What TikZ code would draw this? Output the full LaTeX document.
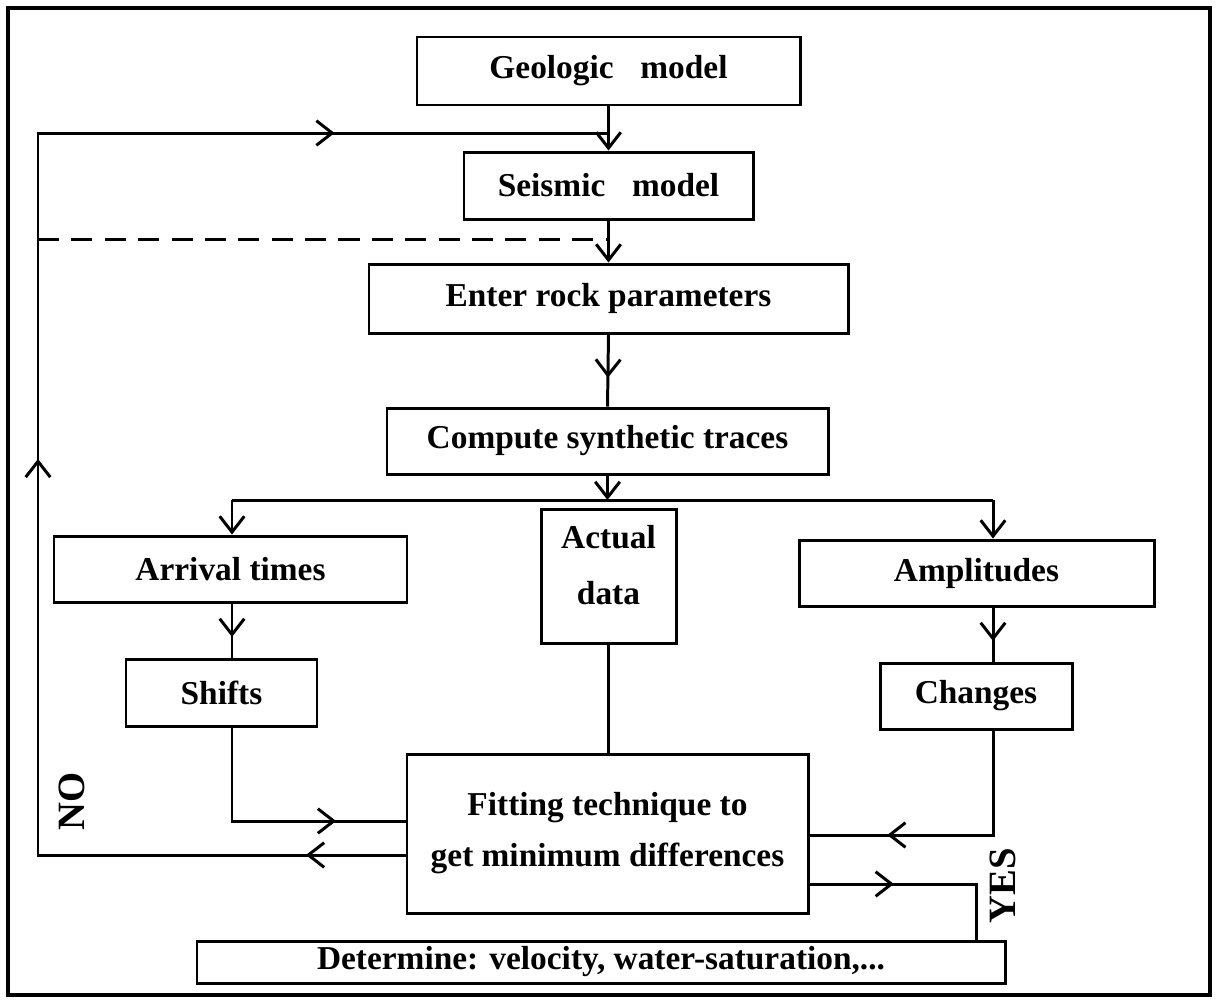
\documentclass[tikz,border=0pt]{standalone}
\usepackage{fontspec}
\setmainfont{Liberation Serif}
\usetikzlibrary{arrows.meta,decorations.markings}

\begin{document}
\begin{tikzpicture}[x=0.02cm, y=-0.02cm, line width=1.7pt, >={Straight Barb[length=9pt,width=14pt]},
  box/.style={draw, align=center, inner sep=0pt, font=\fontsize{19}{29}\selectfont\bfseries},
  sz/.style 2 args={minimum width=#1*0.02cm, minimum height=#2*0.02cm},
  midarr/.style={postaction={decorate, decoration={markings, mark=at position #1 with {\arrow{>}}}}},
  lbl/.style={rotate=90, inner sep=0pt, font=\fontsize{22}{24}\selectfont\bfseries}]
\useasboundingbox (0,0) rectangle (1217,1005);
\draw[line width=2.2pt] (8,8) rectangle (1210,995);
% main column
\node[box, sz={383}{68}] (geo) at (608.5,71) {Geologic\hspace{0.8em}model};
\node[box, sz={289}{67}] (seis) at (608.5,185.5) {Seismic\hspace{0.8em}model};
\node[box, sz={479}{69}] (rock) at (608.5,298.5) {Enter rock parameters};
\node[box, sz={441}{66}] (comp) at (607.5,441) {Compute synthetic traces};
% three branches
\node[box, sz={353}{66}] (arr) at (230.5,569) {Arrival times};
\node[box, sz={191}{67}] (shift) at (221.5,692.5) {Shifts};
\node[box, sz={135}{134}, font=\fontsize{19}{32}\selectfont\bfseries, text depth=13pt] (act) at (608.5,576) {Actual\\data};
\node[box, sz={355}{66}] (amp) at (976.5,573) {Amplitudes};
\node[box, sz={192}{66}] (chg) at (976,696) {Changes};
% fitting and result
\node[box, sz={401}{159}] (fit) at (607.5,833.5) {Fitting technique to\\get minimum differences};
\node[box, sz={808}{42}] (det) at (601,962) {Determine: velocity, water-saturation,...};
\node[lbl] (no) at (72,801) {NO};
\node[lbl] (yes) at (1003,886) {YES};
% connectors
\coordinate (sl) at (232,500);
\coordinate (sr) at (993,500);
\coordinate (yd) at (976,0);
\coordinate (nl) at (38,855);
\coordinate (nt) at (38,133);
\coordinate (dl) at (38,239);
\draw[->] (geo.south) -- (seis.north);
\draw[->] (seis.south) -- (rock.north);
\draw[midarr=0.6] (rock.south) -- (comp.north);
\draw[->] (comp.south) -- (comp.south |- sl);
\draw (sl) -- (sr);
\draw[->] (sl) -- (sl |- arr.north);
\draw[->] (sr) -- (sr |- amp.north);
\draw[midarr=0.62] (sl |- arr.south) -- (sl |- shift.north);
\draw[midarr=0.62] (sr |- amp.south) -- (sr |- chg.north);
\draw (act.south) -- (act.south |- fit.north);
\draw[midarr=0.74] (sl |- shift.south) |- (fit.west |- 0,821);
\draw[midarr=0.73] (sr |- chg.south) |- (fit.east |- 0,835);
\draw[midarr=0.38] (fit.east |- 0,884) -| (yd |- det.north);
\draw[postaction={decorate, decoration={markings,
    mark=at position 0.06 with {\arrow{>}},
    mark=at position 0.46 with {\arrow{>}},
    mark=at position 0.835 with {\arrow{>}}}}]
  (fit.west |- nl) -- (nl) -- (nt) -- (geo.south |- nt);
\draw[dash pattern=on 12pt off 7pt] (dl) -- (seis.south |- dl);
\end{tikzpicture}
\end{document}
